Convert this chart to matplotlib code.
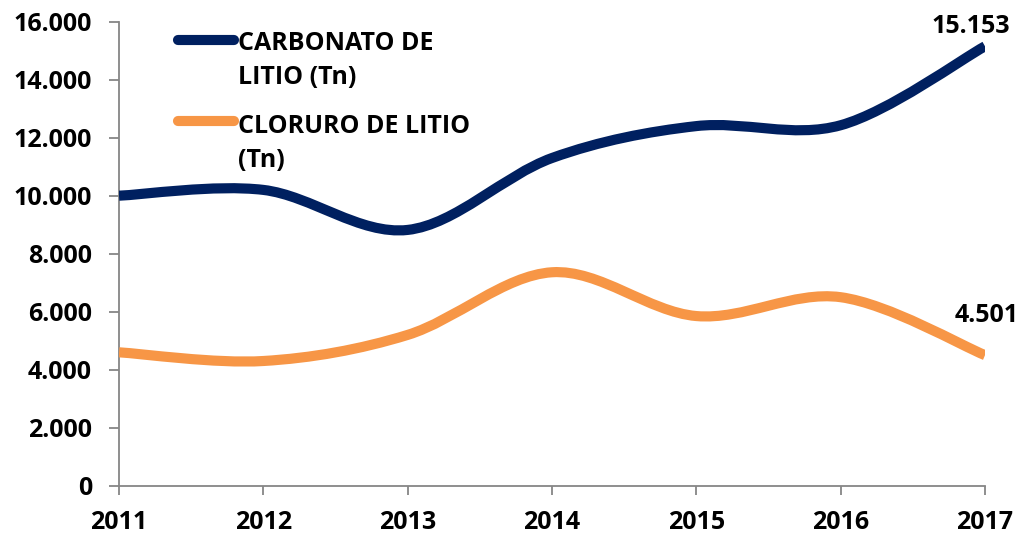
import matplotlib
matplotlib.use("Agg")
import matplotlib.pyplot as plt
from matplotlib.path import Path
from matplotlib.patches import PathPatch
from matplotlib.lines import Line2D
from matplotlib.ticker import FuncFormatter, FixedLocator

years = [2011, 2012, 2013, 2014, 2015, 2016, 2017]
carbonato = [10000, 10200, 8820, 11300, 12400, 12430, 15153]
cloruro = [4600, 4300, 5200, 7360, 5850, 6500, 4501]
series_names = ["CARBONATO DE\nLITIO (Tn)", "CLORURO DE LITIO\n(Tn)"]
colors = ["#002060", "#F79646"]
y_ticks = list(range(0, 16001, 2000))

plt.rcParams['font.family'] = ['Open Sans', 'DejaVu Sans']
plt.rcParams['font.weight'] = 'bold'

FS = 18
W, H = 1030, 535

fig = plt.figure(figsize=(W/100, H/100), dpi=100)
ax = fig.add_axes([119/W, 1-485.7/H, (985-119)/W, (485.7-21.7)/H])


def smooth_path(xs, ys):
    pts = list(zip(xs, ys))
    n = len(pts)
    verts = [pts[0]]
    codes = [Path.MOVETO]
    for i in range(n - 1):
        p0 = pts[i - 1] if i > 0 else pts[i]
        p1 = pts[i]
        p2 = pts[i + 1]
        p3 = pts[i + 2] if i + 2 < n else pts[i + 1]
        c1 = (p1[0] + (p2[0] - p0[0]) / 6, p1[1] + (p2[1] - p0[1]) / 6)
        c2 = (p2[0] - (p3[0] - p1[0]) / 6, p2[1] - (p3[1] - p1[1]) / 6)
        verts += [c1, c2, p2]
        codes += [Path.CURVE4] * 3
    return Path(verts, codes)


for vals, col in zip([carbonato, cloruro], colors):
    patch = PathPatch(smooth_path(years, vals), fill=False, edgecolor=col,
                      lw=7.3, capstyle='butt', joinstyle='round', zorder=3)
    ax.add_patch(patch)

ax.set_xlim(years[0], years[-1])
ax.set_ylim(0, 16000)
ax.xaxis.set_major_locator(FixedLocator(years))
ax.yaxis.set_major_locator(FixedLocator(y_ticks))
ax.yaxis.set_major_formatter(FuncFormatter(lambda v, p: f"{int(v):,}".replace(",", ".")))

for s in ["top", "right"]:
    ax.spines[s].set_visible(False)
for s in ["left", "bottom"]:
    ax.spines[s].set_color("#868686")
    ax.spines[s].set_linewidth(1.3)
ax.spines["bottom"].set_zorder(2)

ax.tick_params(axis='y', direction='out', length=7.5, width=1.3, color="#868686",
               pad=12, labelsize=FS)
ax.tick_params(axis='x', direction='out', length=6.5, width=1.3, color="#868686",
               pad=11, labelsize=FS)
for lab in ax.get_xticklabels() + ax.get_yticklabels():
    lab.set_fontweight('bold')

# end labels
ax.annotate(f"{carbonato[-1]:,}".replace(",", "."), (years[-1], carbonato[-1]),
            xytext=(-14.5, 13.3), textcoords='offset pixels', ha='center', va='baseline',
            fontsize=FS, fontweight='bold', annotation_clip=False)
ax.annotate(f"{cloruro[-1]:,}".replace(",", "."), (years[-1], cloruro[-1]),
            xytext=(2, 33), textcoords='offset pixels', ha='center', va='baseline',
            fontsize=FS, fontweight='bold', annotation_clip=False)

# legend (manual)
leg_rows = [40, 121]
leg_baselines = [[50, 84], [133, 167]]
for name, col, yrow, bases in zip(series_names, colors, leg_rows, leg_baselines):
    yf = 1 - yrow / H
    fig.add_artist(Line2D([178/W, 234/W], [yf, yf], color=col, lw=7.3,
                          solid_capstyle='round'))
    for line, b in zip(name.split("\n"), bases):
        fig.text(238/W, 1 - b / H, line, ha='left', va='baseline',
                 fontsize=FS, fontweight='bold')

fig.savefig("out.png", dpi=100)
